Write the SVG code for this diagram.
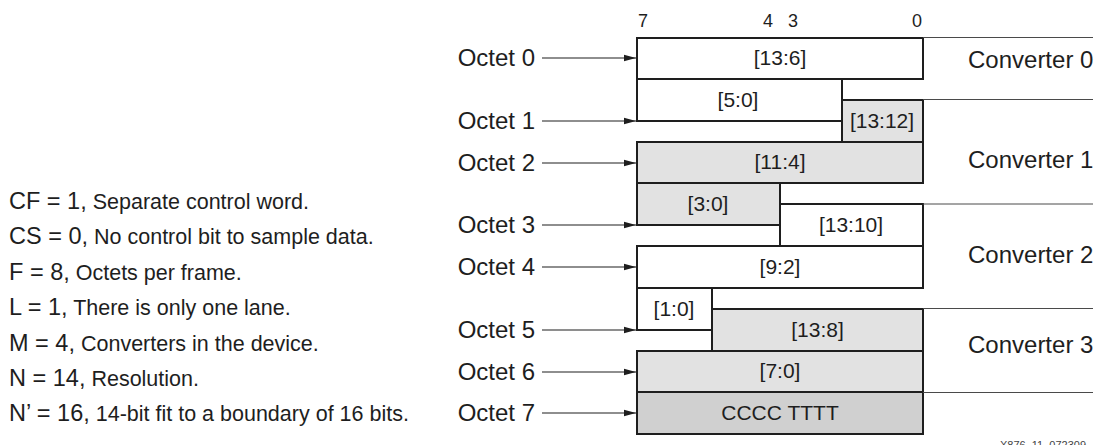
<svg xmlns="http://www.w3.org/2000/svg" width="1096" height="445" viewBox="0 0 1096 445">
  <style>
    text { font-family: "Liberation Sans", Arial, Helvetica, sans-serif; fill: #1e1e1e; }
    .cell { stroke: #1e1e1e; stroke-width: 2; }
    .white { fill: #ffffff; }
    .gray { fill: #e2e2e2; }
    .dark { fill: #d0d0d0; }
    .ctext { font-size: 21px; text-anchor: middle; }
    .olabel { font-size: 24px; text-anchor: end; }
    .conv { font-size: 24px; }
    .bit { font-size: 18px; }
    .sep { stroke: #4a4a4a; stroke-width: 1; fill: none; }
    .arrow { stroke: #1e1e1e; stroke-width: 1.2; fill: none; marker-end: url(#head); }
    .key { font-size: 23.5px; }
    .desc { font-size: 21.5px; }
    .tag { font-size: 11px; fill: #444; }
  </style>
  <defs>
    <marker id="head" viewBox="0 0 12 8" refX="12" refY="4" markerWidth="12" markerHeight="8" markerUnits="userSpaceOnUse" orient="auto">
      <path d="M0,0.8 L12,4 L0,7.2 Z" fill="#1e1e1e"/>
    </marker>
  </defs>

  <!-- parameter legend -->
  <g id="legend">
    <text x="9" y="209"><tspan class="key">CF = 1,</tspan><tspan class="desc"> Separate control word.</tspan></text>
    <text x="9" y="244"><tspan class="key">CS = 0,</tspan><tspan class="desc"> No control bit to sample data.</tspan></text>
    <text x="9" y="280"><tspan class="key">F = 8,</tspan><tspan class="desc"> Octets per frame.</tspan></text>
    <text x="9" y="315"><tspan class="key">L = 1,</tspan><tspan class="desc"> There is only one lane.</tspan></text>
    <text x="9" y="351"><tspan class="key">M = 4,</tspan><tspan class="desc"> Converters in the device.</tspan></text>
    <text x="9" y="386"><tspan class="key">N = 14,</tspan><tspan class="desc"> Resolution.</tspan></text>
    <text x="9" y="421"><tspan class="key">N’ = 16,</tspan><tspan class="desc"> 14-bit fit to a boundary of 16 bits.</tspan></text>
  </g>

  <!-- bit positions -->
  <g id="bit-index">
    <text class="bit" x="638" y="27">7</text>
    <text class="bit" x="763" y="27">4</text>
    <text class="bit" x="788" y="27">3</text>
    <text class="bit" x="912" y="27">0</text>
  </g>

  <!-- octet labels -->
  <g id="octet-labels">
    <text class="olabel" x="535" y="66">Octet 0</text>
    <text class="olabel" x="535" y="129">Octet 1</text>
    <text class="olabel" x="535" y="171">Octet 2</text>
    <text class="olabel" x="535" y="233">Octet 3</text>
    <text class="olabel" x="535" y="275">Octet 4</text>
    <text class="olabel" x="535" y="338">Octet 5</text>
    <text class="olabel" x="535" y="380">Octet 6</text>
    <text class="olabel" x="535" y="421">Octet 7</text>
  </g>

  <!-- sample bit fields -->
  <g id="c0-13-6"><rect class="cell white" x="637" y="38" width="286" height="41"/><text class="ctext" x="780" y="65">[13:6]</text></g>
  <g id="c0-5-0"><rect class="cell white" x="637" y="79" width="205" height="42"/><text class="ctext" x="738" y="107">[5:0]</text></g>
  <g id="c1-13-12"><rect class="cell gray" x="842" y="100" width="81" height="42"/><text class="ctext" x="882" y="128">[13:12]</text></g>
  <g id="c1-11-4"><rect class="cell gray" x="637" y="142" width="286" height="41"/><text class="ctext" x="780" y="169">[11:4]</text></g>
  <g id="c1-3-0"><rect class="cell gray" x="637" y="183" width="143" height="42"/><text class="ctext" x="708" y="211">[3:0]</text></g>
  <g id="c2-13-10"><rect class="cell white" x="780" y="204" width="143" height="42"/><text class="ctext" x="851" y="232">[13:10]</text></g>
  <g id="c2-9-2"><rect class="cell white" x="637" y="246" width="286" height="42"/><text class="ctext" x="780" y="274">[9:2]</text></g>
  <g id="c2-1-0"><rect class="cell white" x="637" y="288" width="75" height="42"/><text class="ctext" x="674" y="316">[1:0]</text></g>
  <g id="c3-13-8"><rect class="cell gray" x="712" y="309" width="211" height="42"/><text class="ctext" x="817.5" y="337">[13:8]</text></g>
  <g id="c3-7-0"><rect class="cell gray" x="637" y="351" width="286" height="41"/><text class="ctext" x="780" y="378">[7:0]</text></g>
  <g id="control"><rect class="cell dark" x="637" y="392" width="286" height="42"/><text class="ctext" x="780" y="420">CCCC TTTT</text></g>

  <!-- converter labels -->
  <g id="converters">
    <text class="conv" x="968" y="68">Converter 0</text>
    <text class="conv" x="968" y="168">Converter 1</text>
    <text class="conv" x="968" y="263">Converter 2</text>
    <text class="conv" x="968" y="353">Converter 3</text>
  </g>

  <!-- arrows and converter boundaries -->
  <g id="connectors">
    <line class="arrow" x1="542" y1="58" x2="636" y2="58"/>
    <line class="arrow" x1="542" y1="121" x2="636" y2="121"/>
    <line class="arrow" x1="542" y1="163" x2="636" y2="163"/>
    <line class="arrow" x1="542" y1="225" x2="636" y2="225"/>
    <line class="arrow" x1="542" y1="267" x2="636" y2="267"/>
    <line class="arrow" x1="542" y1="330" x2="636" y2="330"/>
    <line class="arrow" x1="542" y1="372" x2="636" y2="372"/>
    <line class="arrow" x1="542" y1="413" x2="636" y2="413"/>
    <line class="sep" x1="923" y1="37.5" x2="1093" y2="37.5"/>
    <line class="sep" x1="923" y1="99.5" x2="1093" y2="99.5"/>
    <line class="sep" x1="923" y1="204" x2="1093" y2="204"/>
    <line class="sep" x1="923" y1="308.5" x2="1093" y2="308.5"/>
    <line class="sep" x1="923" y1="392.5" x2="1093" y2="392.5"/>
  </g>

  <text class="tag" x="1000" y="449">X876_11_072309</text>
</svg>
